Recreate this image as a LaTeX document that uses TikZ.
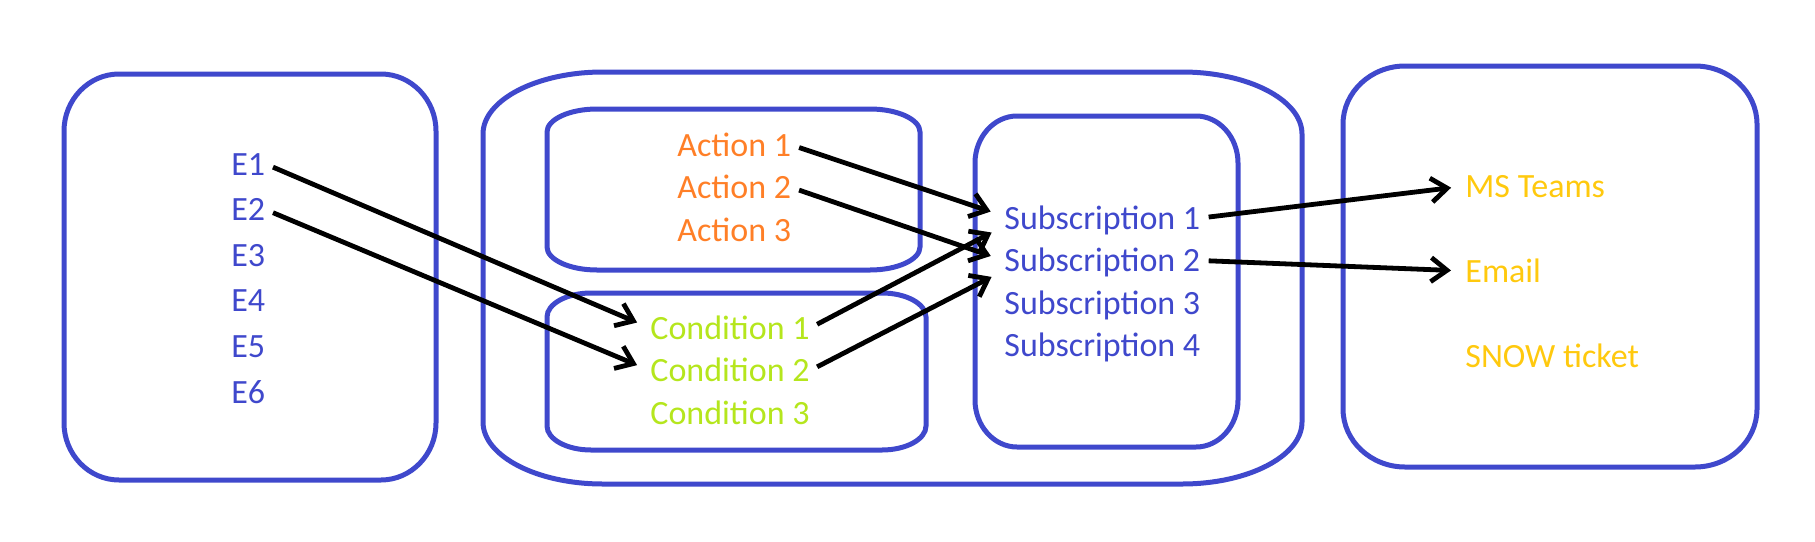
\documentclass[tikz,border=0pt]{standalone}
\usepackage{fontspec}
\setmainfont{Carlito}
\usetikzlibrary{arrows.meta}

\definecolor{boxblue}{RGB}{63,72,204}
\definecolor{actorange}{RGB}{255,127,39}
\definecolor{condgreen}{RGB}{181,230,29}
\definecolor{outyellow}{RGB}{255,201,14}

% box with oval corners: x1 y1 x2 y2 rx ry
\newcommand{\softbox}[6]{%
  \draw[boxline] (#1,#2+#6)
    .. controls (#1,#2+0.45*#6) and (#1+0.45*#5,#2) .. (#1+#5,#2)
    -- (#3-#5,#2)
    .. controls (#3-0.45*#5,#2) and (#3,#2+0.45*#6) .. (#3,#2+#6)
    -- (#3,#4-#6)
    .. controls (#3,#4-0.45*#6) and (#3-0.45*#5,#4) .. (#3-#5,#4)
    -- (#1+#5,#4)
    .. controls (#1+0.45*#5,#4) and (#1,#4-0.45*#6) .. (#1,#4-#6)
    -- cycle;}

\begin{document}
\begin{tikzpicture}[
    x=0.5pt, y=-0.5pt,
    boxline/.style={draw=boxblue, line width=2.5pt},
    every node/.style={font=\fontsize{17}{20}\selectfont, inner sep=0pt,
        anchor=base west, text height=11pt, text depth=0pt},
    event/.style={text=boxblue},
    action/.style={text=actorange},
    condition/.style={text=condgreen},
    subscription/.style={text=boxblue},
    channel/.style={text=outyellow},
    link/.style={line width=2.4pt, -{Straight Barb[length=8pt, width=12pt, line width=2.4pt]},
        shorten <=4pt, shorten >=7pt},
]
  \useasboundingbox (0,0) rectangle (1815,541);

  % BOXES
  \softbox{64}{74}{436}{480}{55}{57}
  \softbox{483}{72}{1302}{484}{120}{62}
  \softbox{547}{109}{920}{270}{50}{23}
  \softbox{547}{293}{926}{450}{44}{24}
  \softbox{975}{116}{1238}{447}{42}{47}
  \softbox{1343}{66}{1757}{467}{62}{58}

  % EVENTS
  \node[event] (e1) at (231,175) {E1};
  \node[event] (e2) at (231,220.6) {E2};
  \node[event] (e3) at (231,266.2) {E3};
  \node[event] (e4) at (231,311.8) {E4};
  \node[event] (e5) at (231,357.4) {E5};
  \node[event] (e6) at (231,403) {E6};

  % ACTIONS AND CONDITIONS
  \node[action] (act1) at (677,156) {Action 1};
  \node[action] (act2) at (677,198.5) {Action 2};
  \node[action] (act3) at (677,241) {Action 3};

  \node[condition] (cond1) at (650,339) {Condition 1};
  \node[condition] (cond2) at (650,381.5) {Condition 2};
  \node[condition] (cond3) at (650,424) {Condition 3};

  % SUBSCRIPTIONS
  \node[subscription] (sub1) at (1004,229) {Subscription 1};
  \node[subscription] (sub2) at (1004,271.5) {Subscription 2};
  \node[subscription] (sub3) at (1004,314) {Subscription 3};
  \node[subscription] (sub4) at (1004,356.5) {Subscription 4};

  % CHANNELS
  \node[channel] (teams) at (1465,197) {MS Teams};
  \node[channel] (email) at (1465,282) {Email};
  \node[channel] (snow) at (1465,367) {SNOW ticket};

  % ARROWS
  \draw[link] (e1.east) -- (cond1.west);
  \draw[link] (e2.east) -- (cond2.west);
  \draw[link] (act1.east) -- ([yshift=1pt]sub1.west);
  \draw[link] (act2.east) -- ([yshift=0pt]sub2.west);
  \draw[link] (cond1.east) -- ([yshift=-4pt]sub1.west);
  \draw[link] (cond2.east) -- ([yshift=-5pt]sub2.west);
  \draw[link] (sub1.east) -- (teams.west);
  \draw[link] (sub2.east) -- (email.west);

\end{tikzpicture}
\end{document}
